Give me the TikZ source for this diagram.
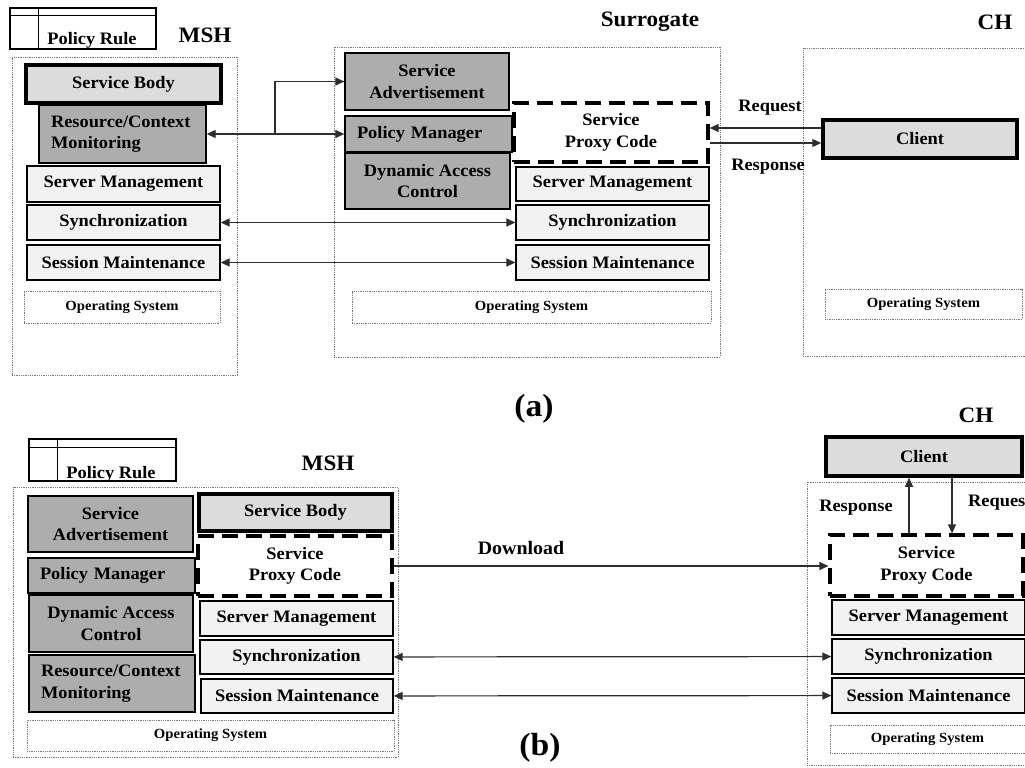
\documentclass[tikz,border=0pt]{standalone}
\usepackage{fontspec}
\setmainfont{Liberation Serif}[FakeStretch=1.05]
\usepackage{xcolor}
\usetikzlibrary{arrows.meta,positioning}
\definecolor{BDark}{HTML}{ADADAD}
\definecolor{BLight}{HTML}{DCDCDC}
\definecolor{BPale}{HTML}{F2F2F2}
\definecolor{BLine}{HTML}{2E2E2E}
\definecolor{BDot}{HTML}{7A7A7A}
\begin{document}
\begin{tikzpicture}[x=1pt,y=-1pt,
  box/.style={draw=black,line width=1.3pt,inner sep=0pt,align=center,
    font=\fontsize{17.5}{21.5}\selectfont\bfseries},
  pale/.style={box,fill=BPale},
  dark/.style={box,fill=BDark},
  darkl/.style={dark,align=left,inner xsep=12pt},
  heavy/.style={box,fill=BLight,line width=3.5pt},
  proxy/.style={box,fill=white,line width=3.2pt,dash pattern=on 16pt off 8pt},
  host/.style={draw=BDot,densely dotted,line width=0.8pt,inner sep=0pt},
  osbox/.style={host,font=\fontsize{14}{15}\selectfont\bfseries},
  rulebox/.style={draw=black,line width=1.2pt,inner sep=0pt},
  lbl/.style={font=\fontsize{17.5}{18.5}\selectfont\bfseries,inner sep=0pt},
  head/.style={font=\fontsize{22}{24}\selectfont\bfseries,inner sep=0pt},
  panel/.style={font=\fontsize{32}{34}\selectfont\bfseries,inner sep=0pt},
  a/.style={-{Triangle[length=9pt,width=8pt]},line width=1.2pt,color=BLine},
  aa/.style={{Triangle[length=9pt,width=8pt]}-{Triangle[length=9pt,width=8pt]},
    line width=1.2pt,color=BLine}
]
  \clip (0,0) rectangle (1025,768);
  \fill[white] (0,0) rectangle (1025,768);

  % ---------- (a) ----------
  \node[host,minimum width=225pt,minimum height=318pt] (mshA) at (124.5,216) {};
  \node[host,minimum width=386pt,minimum height=310pt] (surA) at (527,202) {};
  \node[host,minimum width=240pt,minimum height=308pt] (chA) at (923,202) {};

  \node[rulebox,minimum width=146pt,minimum height=41pt] (ruleA) at (83,28.5) {};
  \draw[line width=1.2pt] ([yshift=-8pt]ruleA.north west) -- ([yshift=-8pt]ruleA.north east);
  \draw[line width=1.2pt] ([xshift=29pt]ruleA.north west) -- ([xshift=29pt]ruleA.south west);
  \node[lbl,anchor=base] (ruleAtxt) at (92,45) {Policy Rule};

  \node[head] (mshAlbl) at (205,35) {MSH};
  \node[head] (surAlbl) at (650,22) {Surrogate};
  \node[head] (chAlbl) at (995,22) {CH};

  \node[heavy,minimum width=195pt,minimum height=38pt] (bodyA) at (123.5,84) {Service Body};
  \node[darkl,text width=143pt,minimum height=58pt] (rcmA) at (122.5,134) {Resource/Context\\Monitoring};
  \node[pale,minimum width=193pt,minimum height=36pt] (smA) at (123.5,184) {Server Management};
  \node[pale,minimum width=193pt,minimum height=35pt] (syncA) at (123.5,222.5) {Synchronization};
  \node[pale,minimum width=193pt,minimum height=35pt] (sessA) at (123.5,262.5) {Session Maintenance};
  \node[osbox,minimum width=196pt,minimum height=32pt] (osA) at (122,307) {Operating System};

  \node[dark,minimum width=164pt,minimum height=57pt] (advA) at (427,81.5) {Service\\Advertisement};
  \node[darkl,text width=143pt,minimum height=36pt] (pmA) at (428.5,134) {Policy Manager};
  \node[dark,minimum width=165pt,minimum height=56pt] (dacA) at (427.5,181) {Dynamic Access\\Control};
  \node[proxy,minimum width=194pt,minimum height=59pt] (proxyA) at (611,132.5) {Service\\Proxy Code};
  \node[pale,minimum width=193pt,minimum height=34pt] (smA2) at (612.5,184) {Server Management};
  \node[pale,minimum width=193pt,minimum height=35pt] (syncA2) at (612.5,222.5) {Synchronization};
  \node[pale,minimum width=193pt,minimum height=35pt] (sessA2) at (612.5,262.5) {Session Maintenance};
  \node[osbox,minimum width=359pt,minimum height=32pt] (osA2) at (531.5,307) {Operating System};

  \node[heavy,minimum width=194pt,minimum height=38pt] (clientA) at (920,139) {Client};
  \node[osbox,minimum width=197pt,minimum height=30pt] (osA3) at (923.5,304) {Operating System};

  \coordinate (brA) at (275,134);
  \draw[aa] (rcmA) -- (pmA);
  \draw[a] (brA) |- (advA.west);
  \draw[a] ([yshift=11pt]clientA.west) -- ([yshift=11pt]clientA.west -| proxyA.east);
  \draw[a] ([yshift=-4pt]clientA.west -| proxyA.east) -- ([yshift=-4pt]clientA.west);
  \node[lbl] (reqA) at (770,108) {Request};
  \node[lbl] (resA) at (768,167) {Response};

  \node[panel] (capA) at (534,409) {(a)};

  % ---------- (b) ----------
  \node[host,minimum width=385pt,minimum height=270pt] (mshB) at (205.5,622) {};
  \node[host,minimum width=240pt,minimum height=283pt] (chB) at (927,623.5) {};

  \node[rulebox,minimum width=147pt,minimum height=42pt] (ruleB) at (102.5,460) {};
  \draw[line width=1.2pt] ([yshift=-9pt]ruleB.north west) -- ([yshift=-9pt]ruleB.north east);
  \draw[line width=1.2pt] ([xshift=29pt]ruleB.north west) -- ([xshift=29pt]ruleB.south west);
  \node[lbl,anchor=base] (ruleBtxt) at (111,478) {Policy Rule};

  \node[head] (mshBlbl) at (328,463) {MSH};
  \node[head] (chBlbl) at (976,415) {CH};

  \node[dark,minimum width=165pt,minimum height=56pt] (advB) at (110.5,524) {Service\\Advertisement};
  \node[darkl,text width=143pt,minimum height=35pt] (pmB) at (111.5,575.5) {Policy Manager};
  \node[dark,minimum width=164pt,minimum height=57pt] (dacB) at (111,623.5) {Dynamic Access\\Control};
  \node[darkl,text width=142pt,minimum height=57pt] (rcmB) at (112,683.5) {Resource/Context\\Monitoring};

  \node[heavy,minimum width=193pt,minimum height=37pt] (bodyB) at (295.5,512.5) {Service Body};
  \node[proxy,minimum width=194pt,minimum height=60pt] (proxyB) at (295,566) {Service\\Proxy Code};
  \node[pale,minimum width=193pt,minimum height=35pt] (smB) at (296.5,618.5) {Server Management};
  \node[pale,minimum width=193pt,minimum height=34pt] (syncB) at (296.5,657) {Synchronization};
  \node[pale,minimum width=192pt,minimum height=34pt] (sessB) at (297,696) {Session Maintenance};
  \node[osbox,minimum width=367pt,minimum height=31pt] (osB) at (210.5,735.5) {Operating System};

  \node[heavy,minimum width=196pt,minimum height=39pt] (clientB) at (924,456.5) {Client};
  \node[proxy,minimum width=193pt,minimum height=61pt] (proxyB2) at (926.5,565.5) {Service\\Proxy Code};
  \node[pale,minimum width=193pt,minimum height=35pt] (smB2) at (928.5,617.5) {Server Management};
  \node[pale,minimum width=193pt,minimum height=35pt] (syncB2) at (928.5,656.5) {Synchronization};
  \node[pale,minimum width=193pt,minimum height=35pt] (sessB2) at (928.5,695.5) {Session Maintenance};
  \node[osbox,minimum width=195pt,minimum height=28pt] (osB2) at (927.5,739) {Operating System};

  \draw[a] (proxyB.east) -- (proxyB.east -| proxyB2.west);
  \draw[a] ([xshift=-17.5pt]proxyB2.north) -- ([xshift=-17.5pt]proxyB2.north |- clientB.south);
  \draw[a] ([xshift=25.5pt]proxyB2.north |- clientB.south) -- ([xshift=25.5pt]proxyB2.north);
  \node[lbl,font=\fontsize{19}{20}\selectfont\bfseries] (dlB) at (521,548) {Download};
  \node[lbl] (resB) at (856,508) {Response};
  \node[lbl,anchor=west] (reqB) at (968,503) {Request};

  \foreach \x/\y in {syncA/syncA2,sessA/sessA2,syncB/syncB2,sessB/sessB2}
    {\draw[aa] (\x) -- (\y);}

  \node[panel] (capB) at (540,748) {(b)};
\end{tikzpicture}
\end{document}
